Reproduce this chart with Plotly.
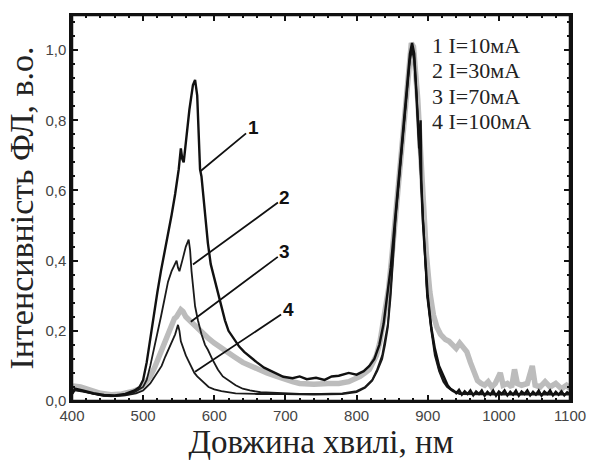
import plotly.graph_objects as go

# ---- data (wavelength in nm, normalized PL intensity) ----
wl_1 = [400, 404, 415, 430, 445, 460, 475, 488, 495, 500, 505, 510, 515, 520, 525, 530, 535, 540, 545, 550,
        553, 555, 557, 560, 565, 570, 573, 576, 578, 580, 582, 585, 588, 591, 595, 600, 605, 610, 615, 620,
        628, 635, 642, 650, 660, 670, 680, 690, 697, 710, 720, 730, 743, 755, 765, 775, 789, 800, 810, 818,
        825, 832, 838, 843, 848, 852, 856, 860, 864, 868, 872, 875, 878, 881, 884, 886, 888, 890, 891, 893,
        896, 900, 905, 910, 916, 922, 928, 932, 936, 940, 944, 948, 952, 956, 960, 964, 968, 972, 976, 980,
        984, 988, 992, 996, 1000, 1004, 1008, 1012, 1016, 1020, 1024, 1028, 1032, 1036, 1040, 1044, 1048, 1052, 1056, 1060,
        1064, 1068, 1072, 1076, 1080, 1084, 1088, 1092, 1096, 1100]
int_1 = [0.02, 0.035, 0.03, 0.022, 0.017, 0.016, 0.02, 0.03, 0.04, 0.06, 0.11, 0.18, 0.25, 0.31, 0.37, 0.42, 0.47, 0.53, 0.59, 0.66,
         0.72, 0.69, 0.68, 0.74, 0.83, 0.90, 0.915, 0.87, 0.78, 0.66, 0.64, 0.57, 0.52, 0.45, 0.39, 0.35, 0.31, 0.27, 0.23, 0.20,
         0.174, 0.155, 0.14, 0.126, 0.11, 0.095, 0.085, 0.075, 0.069, 0.065, 0.07, 0.062, 0.066, 0.06, 0.07, 0.072, 0.08, 0.075, 0.085, 0.10,
         0.12, 0.16, 0.22, 0.30, 0.38, 0.47, 0.56, 0.65, 0.74, 0.84, 0.93, 0.99, 1.02, 0.99, 0.88, 0.80, 0.72, 0.80, 0.63, 0.52,
         0.41, 0.30, 0.21, 0.15, 0.10, 0.07, 0.045, 0.035, 0.03, 0.022, 0.032, 0.018, 0.028, 0.02, 0.03, 0.016, 0.027, 0.02, 0.03, 0.015,
         0.026, 0.018, 0.03, 0.015, 0.027, 0.02, 0.03, 0.016, 0.026, 0.018, 0.03, 0.015, 0.027, 0.02, 0.03, 0.016, 0.026, 0.018, 0.03, 0.015,
         0.027, 0.02, 0.03, 0.016, 0.026, 0.018, 0.028, 0.016, 0.025, 0.02]

wl_2 = [400, 404, 415, 430, 445, 460, 475, 488, 500, 505, 510, 515, 520, 525, 530, 535, 540, 545, 547, 549,
        551, 555, 560, 564, 566, 568, 570, 573, 577, 582, 587, 591, 597, 605, 612, 619, 630, 640, 650, 665,
        690, 720, 750, 780, 800, 812, 822, 829, 836, 840, 844, 848, 851, 855, 860, 864, 867, 871, 875, 878,
        881, 884, 886, 889, 892, 895, 899, 905, 910, 916, 922, 927, 935, 945, 1000, 1100]
int_2 = [0.02, 0.032, 0.028, 0.02, 0.015, 0.014, 0.018, 0.025, 0.04, 0.06, 0.10, 0.145, 0.19, 0.24, 0.29, 0.34, 0.37, 0.39, 0.40, 0.38,
         0.37, 0.40, 0.44, 0.46, 0.43, 0.37, 0.32, 0.27, 0.23, 0.19, 0.16, 0.146, 0.12, 0.09, 0.07, 0.06, 0.045, 0.035, 0.03, 0.025,
         0.022, 0.02, 0.02, 0.022, 0.028, 0.04, 0.06, 0.09, 0.13, 0.17, 0.22, 0.32, 0.42, 0.53, 0.64, 0.73, 0.80, 0.90, 0.98, 1.01,
         0.98, 0.89, 0.81, 0.68, 0.55, 0.43, 0.31, 0.21, 0.14, 0.09, 0.06, 0.045, 0.03, 0.022, 0.02, 0.02]

wl_3 = [400, 404, 412, 425, 440, 455, 470, 485, 495, 502, 510, 516, 522, 527, 532, 536, 540, 544, 547, 550,
        553, 556, 560, 565, 570, 575, 582, 591, 600, 610, 620, 628, 640, 650, 662, 674, 688, 700, 710, 720,
        740, 760, 775, 789, 798, 805, 812, 818, 823, 828, 833, 837, 841, 845, 850, 856, 862, 868, 873, 877,
        880, 883, 886, 890, 894, 898, 903, 908, 913, 918, 925, 930, 935, 940, 945, 950, 955, 960, 965, 970,
        975, 980, 985, 990, 995, 1002, 1006, 1012, 1018, 1022, 1026, 1032, 1040, 1047, 1051, 1058, 1065, 1072, 1080, 1088,
        1095, 1100]
int_3 = [0.03, 0.042, 0.04, 0.03, 0.022, 0.018, 0.02, 0.027, 0.035, 0.05, 0.07, 0.095, 0.126, 0.145, 0.17, 0.19, 0.22, 0.235, 0.24, 0.25,
         0.26, 0.255, 0.24, 0.23, 0.22, 0.21, 0.195, 0.18, 0.165, 0.15, 0.135, 0.126, 0.11, 0.10, 0.09, 0.08, 0.07, 0.06, 0.055, 0.05,
         0.048, 0.05, 0.05, 0.055, 0.062, 0.07, 0.08, 0.09, 0.11, 0.13, 0.17, 0.22, 0.27, 0.32, 0.42, 0.56, 0.70, 0.85, 0.96, 1.02,
         1.01, 0.95, 0.86, 0.71, 0.55, 0.42, 0.31, 0.245, 0.21, 0.19, 0.175, 0.17, 0.16, 0.15, 0.165, 0.155, 0.14, 0.11, 0.08, 0.058,
         0.05, 0.045, 0.055, 0.04, 0.05, 0.08, 0.045, 0.05, 0.04, 0.09, 0.05, 0.045, 0.05, 0.10, 0.045, 0.04, 0.055, 0.04, 0.05, 0.035,
         0.045, 0.035]

wl_4 = [400, 404, 415, 430, 445, 460, 475, 490, 500, 510, 520, 526, 531, 536, 540, 545, 549, 551, 553, 556,
        560, 563, 567, 572, 576, 581, 586, 592, 600, 610, 630, 660, 700, 740, 780, 800, 812, 822, 829, 836,
        840, 844, 848, 851, 855, 860, 864, 867, 871, 875, 878, 881, 884, 886, 889, 892, 895, 899, 905, 910,
        916, 922, 927, 935, 945, 1000, 1100]
int_4 = [0.02, 0.03, 0.027, 0.02, 0.015, 0.014, 0.016, 0.022, 0.03, 0.05, 0.08, 0.10, 0.126, 0.15, 0.17, 0.19, 0.217, 0.20, 0.17, 0.15,
         0.13, 0.117, 0.10, 0.08, 0.07, 0.06, 0.05, 0.04, 0.033, 0.028, 0.022, 0.02, 0.02, 0.018, 0.02, 0.025, 0.038, 0.058, 0.085, 0.12,
         0.16, 0.21, 0.30, 0.40, 0.52, 0.63, 0.72, 0.79, 0.89, 0.97, 1.00, 0.97, 0.88, 0.80, 0.67, 0.54, 0.42, 0.30, 0.20, 0.13,
         0.085, 0.055, 0.04, 0.028, 0.02, 0.018, 0.018]

legend_lines = ["1 I=10мА", "2 I=30мА", "3 I=70мА", "4 I=100мА"]
curve_labels = ["1", "2", "3", "4"]
# points on curves where the leader lines start (nm, intensity)
label_wl = [580, 570, 567, 573]
label_int = [0.654, 0.389, 0.226, 0.083]
label_dx = [53, 92, 94, 93]
label_dy = [-44, -67, -70, -62]

x_ticks = [400, 500, 600, 700, 800, 900, 1000, 1100]
y_ticks = [0.0, 0.2, 0.4, 0.6, 0.8, 1.0]

fig = go.Figure()
fig.add_trace(go.Scatter(x=wl_3, y=int_3, mode="lines", line=dict(color="#bcbcbc", width=5.5),
                         name="3", showlegend=False))
fig.add_trace(go.Scatter(x=wl_4, y=int_4, mode="lines", line=dict(color="#1a1a1a", width=1.8),
                         name="4", showlegend=False))
fig.add_trace(go.Scatter(x=wl_2, y=int_2, mode="lines", line=dict(color="#1a1a1a", width=1.8),
                         name="2", showlegend=False))
fig.add_trace(go.Scatter(x=wl_1, y=int_1, mode="lines", line=dict(color="#111111", width=2.4),
                         name="1", showlegend=False))

annotations = []
for i, t in enumerate(legend_lines):
    annotations.append(dict(text=t, xref="paper", yref="paper", x=0.719, y=0.922 - i * 0.066,
                            xanchor="left", yanchor="middle", showarrow=False,
                            font=dict(family="Liberation Serif", size=22, color="#222")))
for i, t in enumerate(curve_labels):
    annotations.append(dict(text="<b>" + t + "</b>", x=label_wl[i], y=label_int[i], xref="x", yref="y",
                            ax=label_dx[i], ay=label_dy[i], showarrow=True, arrowhead=0,
                            arrowwidth=1.8, arrowcolor="#111",
                            font=dict(family="Liberation Sans", size=19, color="#111")))

fig.update_layout(
    width=598, height=467,
    margin=dict(l=72, r=20, t=15, b=66),
    paper_bgcolor="white", plot_bgcolor="white",
    separators=", ",
    annotations=annotations,
    showlegend=False,
    shapes=[dict(type="rect", xref="paper", yref="paper", x0=0, y0=0, x1=1, y1=1,
                 line=dict(color="#111", width=2.5), layer="above")],
)
fig.update_xaxes(range=[400, 1100], tickvals=x_ticks, ticks="inside", ticklen=6, tickwidth=1.5,
                 tickcolor="#111", showline=True, linewidth=2, linecolor="#111", mirror="ticks",
                 showgrid=False, zeroline=False,
                 minor=dict(dtick=20, ticks="inside", ticklen=3, tickcolor="#111", showgrid=False),
                 tickfont=dict(family="Liberation Sans", size=15, color="#444"),
                 title=dict(text="Довжина хвилі, нм", font=dict(family="Liberation Serif", size=33, color="#222"),
                            standoff=0))
fig.update_yaxes(range=[0, 1.1], tickvals=y_ticks, tickformat=".1f", ticks="inside", ticklen=6, tickwidth=1.5,
                 tickcolor="#111", showline=True, linewidth=2.5, linecolor="#111", mirror="ticks",
                 showgrid=False, zeroline=False,
                 minor=dict(dtick=0.04, ticks="inside", ticklen=3, tickcolor="#111", showgrid=False),
                 tickfont=dict(family="Liberation Sans", size=15, color="#444"),
                 title=dict(text="Інтенсивність ФЛ, в.о.", font=dict(family="Liberation Serif", size=34, color="#222"),
                            standoff=2))

fig.write_html("out.html", config={"displayModeBar": False},
               post_script="document.body.style.margin='0';")
